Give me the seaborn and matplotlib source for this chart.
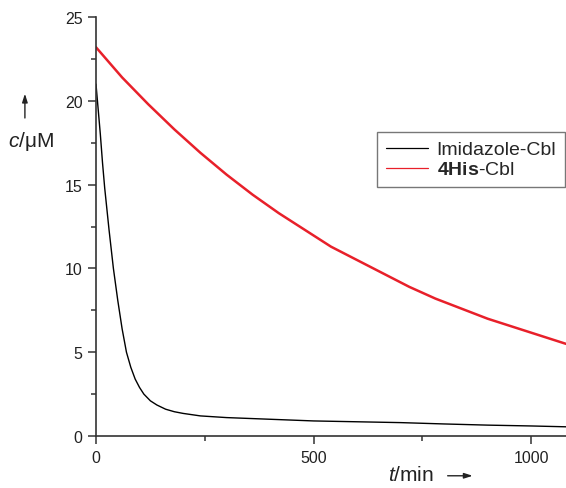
import pandas as pd
import matplotlib
matplotlib.use("Agg")
import matplotlib.pyplot as plt
from matplotlib.lines import Line2D
from matplotlib.patches import FancyArrowPatch
from matplotlib.ticker import MultipleLocator
import seaborn as sns

# values
imid_t = [0, 5, 10, 15, 20, 30, 40, 50, 60, 70, 80, 90, 100, 110, 125, 140, 160,
          180, 200, 240, 300, 400, 500, 600, 700, 800, 900, 1000, 1080]
imid_c = [21.0, 19.5, 18.0, 16.3, 14.8, 12.3, 10.0, 8.1, 6.4, 5.0, 4.1, 3.4, 2.9,
          2.5, 2.1, 1.85, 1.6, 1.45, 1.35, 1.2, 1.1, 1.0, 0.9, 0.85, 0.8, 0.72,
          0.65, 0.6, 0.55]

his_t = [0, 60, 120, 180, 240, 300, 360, 420, 480, 540, 600, 660, 720, 780, 840,
         900, 960, 1020, 1080]
his_c = [23.2, 21.4, 19.8, 18.3, 16.9, 15.6, 14.4, 13.3, 12.3, 11.3, 10.5, 9.7,
         8.9, 8.2, 7.6, 7.0, 6.5, 6.0, 5.5]

series_names = ["Imidazole-Cbl", "4His-Cbl"]
series_colors = ["black", "#e8202a"]

df = pd.concat([
    pd.DataFrame({"t": imid_t, "c": imid_c, "series": series_names[0]}),
    pd.DataFrame({"t": his_t, "c": his_c, "series": series_names[1]}),
])

sns.set_style("ticks")
plt.rcParams["font.family"] = ["Liberation Sans", "DejaVu Sans"]
plt.rcParams["mathtext.fontset"] = "custom"
plt.rcParams["mathtext.rm"] = "Liberation Sans"
plt.rcParams["mathtext.it"] = "Liberation Sans:italic"
plt.rcParams["mathtext.bf"] = "Liberation Sans:bold"

fig = plt.figure(figsize=(5.66, 4.89), dpi=100)
ax = fig.add_axes([0.1696, 0.1063, 0.8304, 0.8567])

sns.lineplot(data=df, x="t", y="c", hue="series", palette=series_colors,
             ax=ax, legend=False, estimator=None, sort=False)
for ln, w in zip(ax.lines, [1.0, 1.8]):
    ln.set_linewidth(w)

ax.set_xlim(0, 1080)
ax.set_ylim(0, 25)
ax.xaxis.set_major_locator(MultipleLocator(500))
ax.xaxis.set_minor_locator(MultipleLocator(250))
ax.yaxis.set_major_locator(MultipleLocator(5))
ax.yaxis.set_minor_locator(MultipleLocator(2.5))
ax.tick_params(which="major", length=5.8, width=1.1, color="#333333",
               labelsize=11.5, labelcolor="#222222", pad=4)
ax.tick_params(which="minor", length=3.5, width=1.1, color="#333333")
sns.despine(ax=ax)
for s in ["left", "bottom"]:
    ax.spines[s].set_linewidth(1.2)
    ax.spines[s].set_color("#333333")
ax.set_xlabel("")
ax.set_ylabel("")

handles = [Line2D([], [], color=series_colors[0], lw=0.9),
           Line2D([], [], color=series_colors[1], lw=0.9)]
leg = ax.legend(handles, ["Imidazole-Cbl", r"$\mathbf{4His}$-Cbl"],
                loc="upper right", bbox_to_anchor=(0.998, 0.7255),
                borderaxespad=0, fontsize=14, frameon=True, fancybox=False,
                handlelength=2.15, borderpad=0.45, labelspacing=0.12,
                handletextpad=0.45)
leg.get_frame().set_edgecolor("#555555")
leg.get_frame().set_linewidth(1.0)

# axis labels with arrows, as in the original figure
fig.text(0.0545, 0.71, r"$c$/μM", fontsize=15, ha="center", va="center",
         color="#222222")
fig.patches.append(FancyArrowPatch(
    (0.044, 0.751), (0.044, 0.812), transform=fig.transFigure,
    arrowstyle="-|>,head_length=5,head_width=1.6", color="#222222", lw=1.0))
fig.text(0.726, 0.016, r"$t$/min", fontsize=15, ha="center", va="baseline",
         color="#222222")
fig.patches.append(FancyArrowPatch(
    (0.786, 0.025), (0.84, 0.025), transform=fig.transFigure,
    arrowstyle="-|>,head_length=5,head_width=1.6", color="#222222", lw=1.0))

fig.savefig("out.png", dpi=100)
